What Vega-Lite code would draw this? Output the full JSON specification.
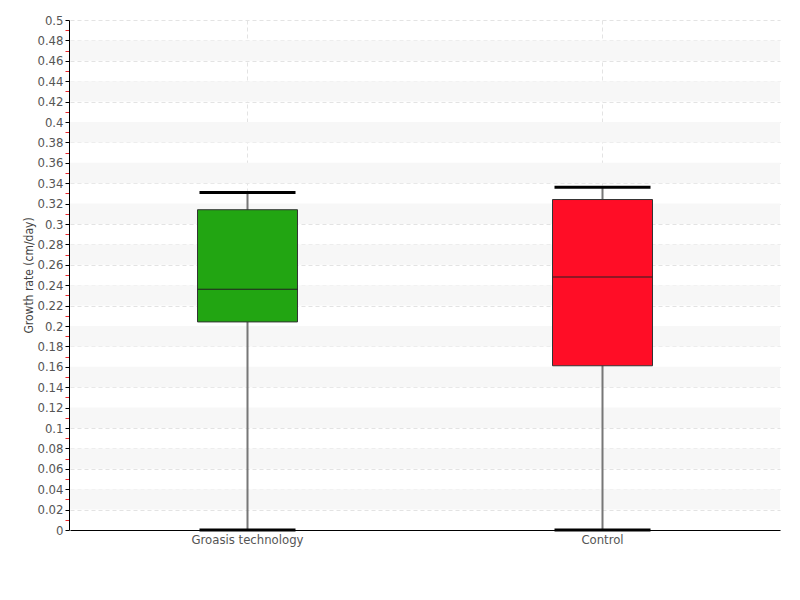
{
  "$schema": "https://vega.github.io/schema/vega-lite/v6.json",
  "width": 710,
  "height": 510,
  "autosize": {"type": "none"},
  "padding": {"left": 70, "top": 20, "right": 20, "bottom": 70},
  "background": "white",
  "config": {
    "view": {"stroke": null},
    "font": "DejaVu Sans Condensed, Roboto, sans-serif",
    "axis": {"labelFont": "DejaVu Sans Condensed, Roboto, sans-serif", "titleFont": "DejaVu Sans Condensed, Roboto, sans-serif"}
  },
  "datasets": {
    "bands": [
      {"lo": 0.02, "hi": 0.04}, {"lo": 0.06, "hi": 0.08}, {"lo": 0.10, "hi": 0.12},
      {"lo": 0.14, "hi": 0.16}, {"lo": 0.18, "hi": 0.20}, {"lo": 0.22, "hi": 0.24},
      {"lo": 0.26, "hi": 0.28}, {"lo": 0.30, "hi": 0.32}, {"lo": 0.34, "hi": 0.36},
      {"lo": 0.38, "hi": 0.40}, {"lo": 0.42, "hi": 0.44}, {"lo": 0.46, "hi": 0.48}
    ],
    "boxes": [
      {"group": "Groasis technology", "min": 0, "q1": 0.204, "median": 0.236, "q3": 0.314, "max": 0.331},
      {"group": "Control", "min": 0, "q1": 0.161, "median": 0.248, "q3": 0.324, "max": 0.336}
    ]
  },
  "layer": [
    {
      "data": {"name": "bands"},
      "mark": {"type": "rect", "color": "#f7f7f7"},
      "encoding": {
        "y": {
          "field": "lo", "type": "quantitative",
          "scale": {"domain": [0, 0.5], "nice": false, "zero": true},
          "axis": {
            "values": [0,0.01,0.02,0.03,0.04,0.05,0.06,0.07,0.08,0.09,0.1,0.11,0.12,0.13,0.14,0.15,0.16,0.17,0.18,0.19,0.2,0.21,0.22,0.23,0.24,0.25,0.26,0.27,0.28,0.29,0.3,0.31,0.32,0.33,0.34,0.35,0.36,0.37,0.38,0.39,0.4,0.41,0.42,0.43,0.44,0.45,0.46,0.47,0.48,0.49,0.5],
            "tickCount": 200,
            "format": "~g",
            "labelExpr": "round(datum.value*100) % 2 == 1 ? '' : datum.label",
            "labelOverlap": false,
            "labelBound": false,
            "labelFlush": false,
            "title": "Growth rate (cm/day)",
            "titleFontSize": 12,
            "titleFontWeight": "normal",
            "titleColor": "#444",
            "titlePadding": 1,
            "labelFontSize": 13,
            "labelColor": "#555",
            "labelPadding": 2,
            "domainColor": "black",
            "offset": 1,
            "tickColor": {"condition": {"test": "round(datum.value*100) % 2 == 1", "value": "#e8262b"}, "value": "black"},
            "tickSize": 4,
            "grid": true,
            "gridColor": "#e3e3e3",
            "gridDash": [4, 3],
            "gridOpacity": {"condition": {"test": "round(datum.value*100) % 2 == 1", "value": 0}, "value": 1}
          }
        },
        "y2": {"field": "hi"}
      }
    },
    {
      "data": {"name": "boxes"},
      "layer": [
        {
          "mark": {"type": "rule", "color": "#777777", "strokeWidth": 2},
          "encoding": {
            "x": {
              "field": "group", "type": "nominal",
              "sort": ["Groasis technology", "Control"],
              "scale": {"paddingInner": 0, "paddingOuter": 0},
              "axis": {
                "title": null,
                "labelAngle": 0,
                "labelFontSize": 13,
                "labelColor": "#555",
                "labelPadding": 3,
                "domainColor": "black",
                "ticks": false,
                "grid": true,
                "gridColor": "#e3e3e3",
                "gridDash": [4, 3]
              }
            },
            "y": {"field": "min", "type": "quantitative"},
            "y2": {"field": "max"}
          }
        },
        {
          "mark": {"type": "bar", "size": 100, "stroke": "#333333", "strokeWidth": 1},
          "encoding": {
            "x": {"field": "group", "type": "nominal", "sort": ["Groasis technology", "Control"]},
            "y": {"field": "q1", "type": "quantitative"},
            "y2": {"field": "q3"},
            "color": {
              "field": "group", "type": "nominal",
              "scale": {"domain": ["Groasis technology", "Control"], "range": ["#22a512", "#ff0d26"]},
              "legend": null
            }
          }
        },
        {
          "mark": {"type": "tick", "color": "#222222", "thickness": 1, "size": 100, "opacity": 1},
          "encoding": {
            "x": {"field": "group", "type": "nominal", "sort": ["Groasis technology", "Control"]},
            "y": {"field": "median", "type": "quantitative"}
          }
        },
        {
          "mark": {"type": "tick", "color": "black", "thickness": 3, "size": 96, "opacity": 1},
          "encoding": {
            "x": {"field": "group", "type": "nominal", "sort": ["Groasis technology", "Control"]},
            "y": {"field": "max", "type": "quantitative"}
          }
        },
        {
          "mark": {"type": "tick", "color": "black", "thickness": 3, "size": 96, "opacity": 1},
          "encoding": {
            "x": {"field": "group", "type": "nominal", "sort": ["Groasis technology", "Control"]},
            "y": {"field": "min", "type": "quantitative"}
          }
        }
      ]
    }
  ]
}
